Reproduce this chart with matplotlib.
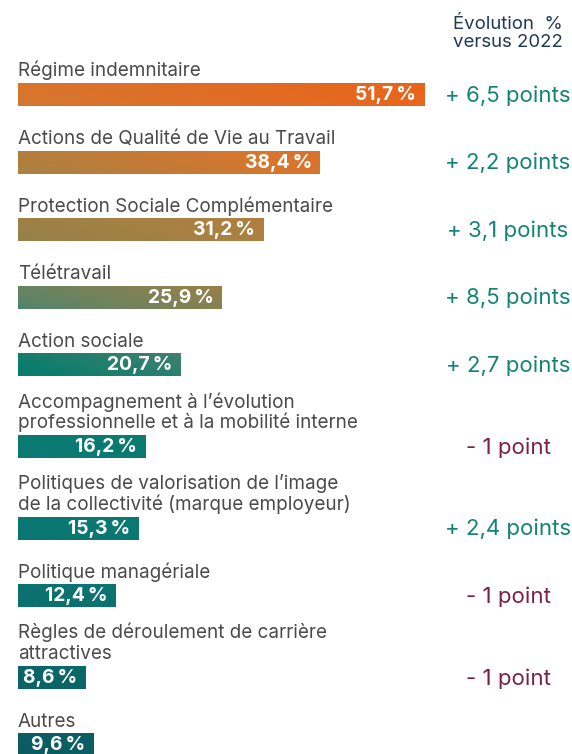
import numpy as np
import matplotlib
matplotlib.use("Agg")
import matplotlib.pyplot as plt
from matplotlib.colors import LinearSegmentedColormap

# ---------------- data ----------------
categories = [
    "Régime indemnitaire",
    "Actions de Qualité de Vie au Travail",
    "Protection Sociale Complémentaire",
    "Télétravail",
    "Action sociale",
    "Accompagnement à l’évolution\nprofessionnelle et à la mobilité interne",
    "Politiques de valorisation de l’image\nde la collectivité (marque employeur)",
    "Politique managériale",
    "Règles de déroulement de carrière\nattractives",
    "Autres",
]
values = [51.7, 38.4, 31.2, 25.9, 20.7, 16.2, 15.3, 12.4, 8.6, 9.6]
changes = [6.5, 2.2, 3.1, 8.5, 2.7, -1, 2.4, -1, -1, None]
header = ["Évolution  %", "versus 2022"]

# ---------------- layout ----------------
W, H = 572, 754
PX_PER_PCT = 7.86
X0 = 18.0
FONT = "Inter"
LABEL_COLOR = "#4a4a4a"
POS_COLOR = "#138376"
NEG_COLOR = "#7a2147"
HEAD_COLOR = "#1d3a57"
BAR_H = 23

fig = plt.figure(figsize=(W / 100, H / 100), dpi=100)
ax = fig.add_axes([0, 0, 1, 1])
xl = (-X0 / PX_PER_PCT, (W - X0) / PX_PER_PCT)
ax.set_xlim(*xl)
ax.set_ylim(H, 0)
ax.axis("off")

def px(p):  # pixel width -> data units on x
    return p / PX_PER_PCT

# bar centres (pixel rows): step depends on number of label lines
centers = []
y = 94.5
for i, c in enumerate(categories):
    if i > 0:
        y += 67.6 + 14 * (c.count("\n"))
    centers.append(y)

bars = ax.barh(centers, values, height=BAR_H, left=0, color="none", edgecolor="none")

# diagonal gradient (teal bottom-left -> orange top-right)
stops_s = [0, 15, 80, 161, 229, 311, 393, 442, 461, 529, 597, 664, 773, 908]
stops_c = ["#0b5a60", "#0b5d62", "#0b6466", "#0b716f", "#0b7772", "#0b7a74",
           "#0a7d6c", "#3a8070", "#5e8468", "#9a8048", "#ae8040", "#d7762e",
           "#e8651c", "#ec6018"]
smax = stops_s[-1]
cmap = LinearSegmentedColormap.from_list(
    "grad", [(s / smax, c) for s, c in zip(stops_s, stops_c)])
xx, yy = np.meshgrid(np.arange(W) + 0.5, np.arange(H) + 0.5)
S = ((H - yy) + 0.27 * xx) / smax
img = cmap(np.clip(S, 0, 1))
for b in bars:
    im = ax.imshow(img, extent=(xl[0], xl[1], H, 0), aspect="auto",
                   interpolation="bilinear", zorder=1)
    im.set_clip_path(b)

for i, (c, v, ch, yc) in enumerate(zip(categories, values, changes, centers)):
    top = yc - BAR_H / 2
    lines = c.split("\n")
    n = len(lines)
    for k, line in enumerate(lines):
        base = top - 6.5 - (n - 1 - k) * 21
        ax.text(0, base, line, ha="left", va="baseline", fontsize=13.6,
                family=FONT, color=LABEL_COLOR, zorder=3)
    lab = f"{v:.1f}".replace(".", ",") + "\u2009%"
    ax.text(v - px(8), yc + 5.4, lab, ha="right", va="baseline", fontsize=13.9,
            family=FONT, fontweight="bold", color="white", zorder=3)
    if ch is not None:
        if ch > 0:
            s = "+ " + f"{ch:.1f}".replace(".", ",") + " points"
            col = POS_COLOR
        else:
            s = "- " + f"{abs(ch):g}" + " point" + ("s" if abs(ch) > 1 else "")
            col = NEG_COLOR
        ax.text((508 - X0) / PX_PER_PCT, yc + 7.2, s, ha="center",
                va="baseline", fontsize=16, family=FONT, color=col, zorder=3)

hx = (507.5 - X0) / PX_PER_PCT
ax.text(hx, 29.3, header[0], ha="center", va="baseline", fontsize=13.4,
        family=FONT, color=HEAD_COLOR)
ax.text(hx, 47, header[1], ha="center", va="baseline", fontsize=13.4,
        family=FONT, color=HEAD_COLOR)

fig.savefig("out.png", dpi=100, facecolor="white")
